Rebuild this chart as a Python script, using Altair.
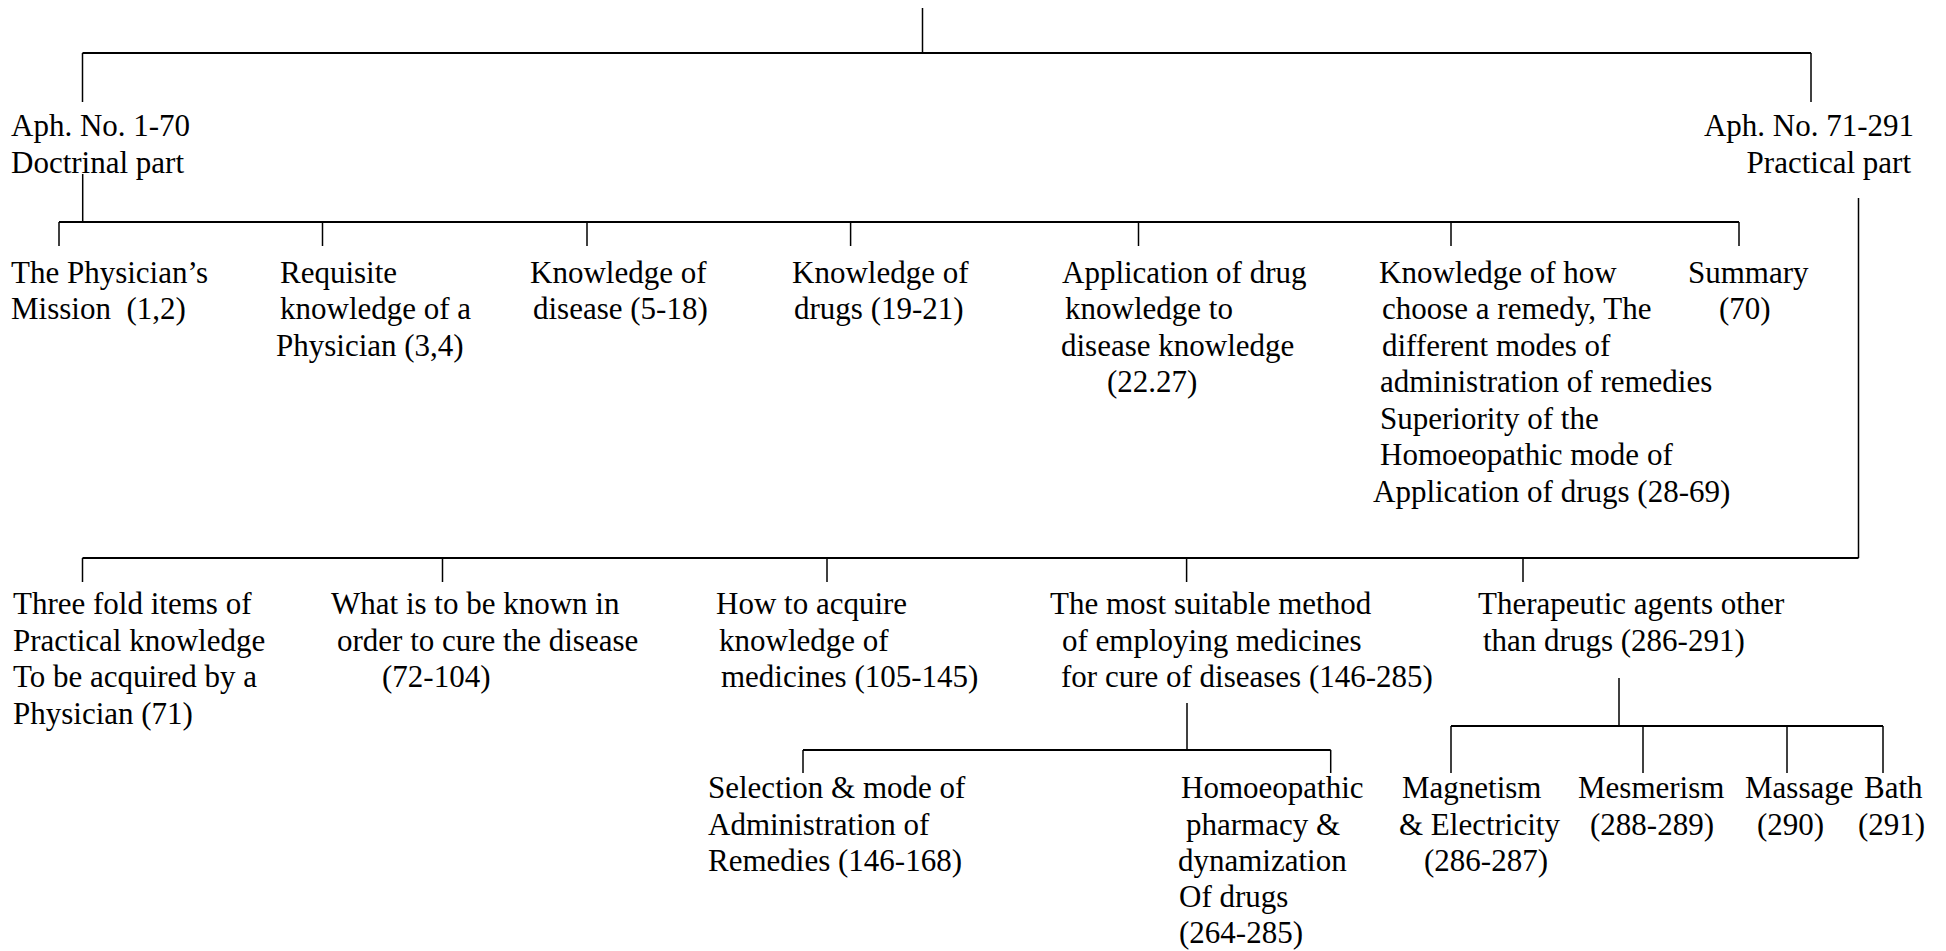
import altair as alt
import pandas as pd

# ---- text of the tree (one entry per printed line) ----
line_text = [
    "Aph. No. 1-70", "Doctrinal part",
    "Aph. No. 71-291", "Practical part",
    "The Physician\u2019s", "Mission \u00a0(1,2)",
    "Requisite", "knowledge of a", "Physician (3,4)",
    "Knowledge of", "disease (5-18)",
    "Knowledge of", "drugs (19-21)",
    "Application of drug", "knowledge to", "disease knowledge", "(22.27)",
    "Knowledge of how", "choose a remedy, The", "different modes of",
    "administration of remedies", "Superiority of the", "Homoeopathic mode of",
    "Application of drugs (28-69)",
    "Summary", "(70)",
    "Three fold items of", "Practical knowledge", "To be acquired by a", "Physician (71)",
    "What is to be known in", "order to cure the disease", "(72-104)",
    "How to acquire", "knowledge of", "medicines (105-145)",
    "The most suitable method", "of employing medicines", "for cure of diseases (146-285)",
    "Therapeutic agents other", "than drugs (286-291)",
    "Selection & mode of", "Administration of", "Remedies (146-168)",
    "Homoeopathic", "pharmacy &", "dynamization", "Of drugs", "(264-285)",
    "Magnetism", "& Electricity", "(286-287)",
    "Mesmerism", "(288-289)",
    "Massage", "(290)",
    "Bath", "(291)",
]

# ---- layout of each line (page pixels: anchor x, baseline y, alignment) ----
L1 = [136, 172.5]
L2 = [282.5, 319, 355.5, 392, 428.5, 465, 501.5]
L3 = [614, 650.5, 687, 723.5]
L4 = [798, 834.5, 871, 907, 943]

line_x = [
    11, 11,
    1914, 1911,
    11, 11,
    280, 280, 276,
    530, 533,
    792, 794,
    1062, 1065, 1061, 1107,
    1379, 1382, 1382, 1380, 1380, 1380, 1373,
    1688, 1719,
    13, 13, 13, 13,
    331, 337, 382,
    716, 719, 721,
    1050, 1062, 1061,
    1478, 1483,
    708, 708, 708,
    1181, 1186, 1178, 1179, 1179,
    1402, 1399, 1424,
    1578, 1590,
    1745, 1757,
    1864, 1858,
]
line_y = (
    L1 + L1
    + L2[:2] + L2[:3] + L2[:2] + L2[:2] + L2[:4] + L2[:7] + L2[:2]
    + L3[:4] + L3[:3] + L3[:3] + L3[:3] + L3[:2]
    + L4[:3] + L4[:5] + L4[:3] + L4[:2] + L4[:2] + L4[:2]
)
line_align = ["left"] * 2 + ["right"] * 2 + ["left"] * (len(line_text) - 4)

# ---- connector segments (page pixels) ----
seg_x1 = [922.5, 82.5, 82.5, 1811, 82.7, 59,
          59, 322.5, 587, 850.6, 1138.5, 1451, 1739,
          1858.5, 82.5,
          82.5, 442.5, 827, 1186.6, 1523,
          1187, 803, 803, 1330.7,
          1619, 1451, 1451, 1643, 1787, 1883]
seg_y1 = [6, 53, 53, 53, 174, 222,
          222, 222, 222, 222, 222, 222, 222,
          198, 558,
          558, 558, 558, 558, 558,
          703, 750, 750, 750,
          678, 726, 726, 726, 726, 726]
seg_x2 = [922.5, 1811, 82.5, 1811, 82.7, 1739,
          59, 322.5, 587, 850.6, 1138.5, 1451, 1739,
          1858.5, 1858.5,
          82.5, 442.5, 827, 1186.6, 1523,
          1187, 1330.7, 803, 1330.7,
          1619, 1883, 1451, 1643, 1787, 1883]
seg_y2 = [53, 53, 102, 102, 222, 222,
          246, 246, 246, 246, 246, 246, 246,
          558, 558,
          582, 582, 582, 582, 582,
          750, 750, 773, 773,
          726, 726, 773, 773, 773, 773]

texts = pd.DataFrame({"t": line_text, "x": line_x, "y": line_y, "a": line_align})
segs = pd.DataFrame({"x": seg_x1, "y": seg_y1, "x2": seg_x2, "y2": seg_y2})
segs["horiz"] = segs["y"] == segs["y2"]

W, H = 1930, 943
xs = alt.Scale(domain=[8, 8 + W], range=[0, W], nice=False, zero=False)
ys = alt.Scale(domain=[8, 8 + H], range=[0, H], nice=False, zero=False)

X = alt.X("x:Q", scale=xs, axis=None)
Y = alt.Y("y:Q", scale=ys, axis=None)

FONT = "'Times New Roman', 'Liberation Serif', 'DejaVu Serif', serif"

horiz = alt.Chart(segs).transform_filter("datum.horiz").mark_rule(
    color="black", strokeWidth=2
).encode(x=X, y=Y, x2="x2:Q", y2="y2:Q")

vert = alt.Chart(segs).transform_filter("!datum.horiz").mark_rule(
    color="black", strokeWidth=1.5
).encode(x=X, y=Y, x2="x2:Q", y2="y2:Q")

left_txt = alt.Chart(texts).transform_filter("datum.a == 'left'").mark_text(
    align="left", baseline="alphabetic", font=FONT,
    fontSize=31, color="black"
).encode(x=X, y=Y, text="t:N")

right_txt = alt.Chart(texts).transform_filter("datum.a == 'right'").mark_text(
    align="right", baseline="alphabetic", font=FONT,
    fontSize=31, color="black"
).encode(x=X, y=Y, text="t:N")

chart = alt.layer(horiz, vert, left_txt, right_txt).properties(
    width=W, height=H, padding=0, autosize=alt.AutoSizeParams(type="none"),
    background="white",
).configure_view(stroke=None)

chart.save("out.html", embed_options={"renderer": "svg", "actions": False})
